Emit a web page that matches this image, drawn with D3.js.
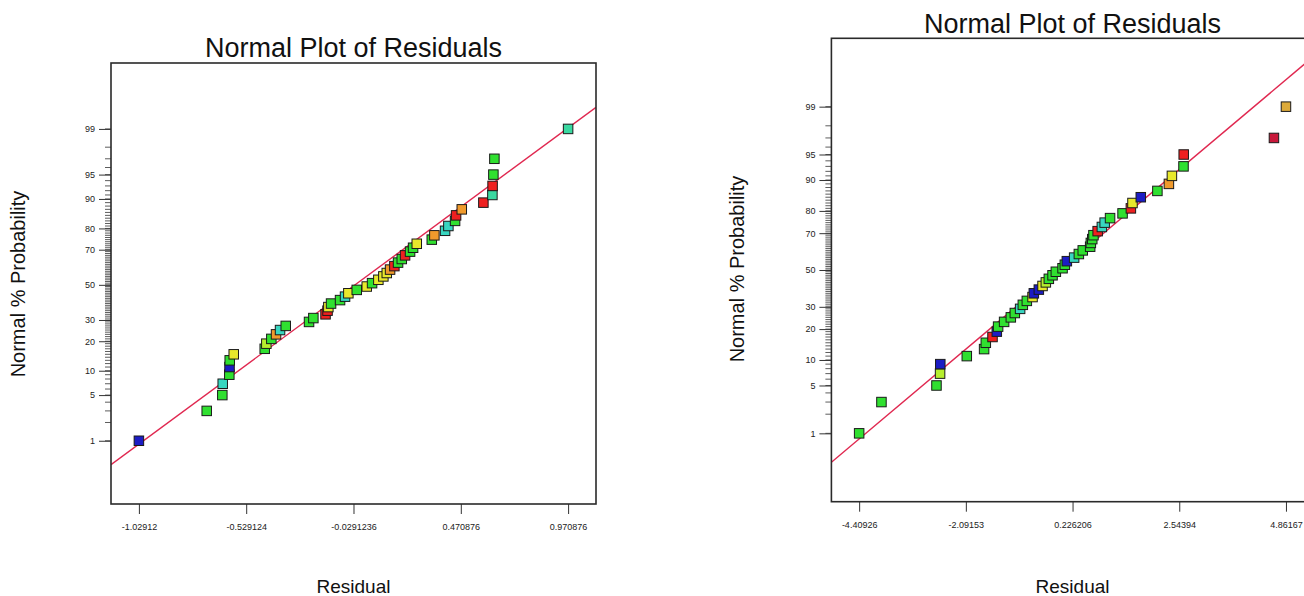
<!DOCTYPE html>
<html>
<head>
<meta charset="utf-8">
<script src="https://cdn.jsdelivr.net/npm/d3@7"></script>
<style>
  html, body { margin: 0; padding: 0; background: #fff; }
  svg { display: block; font-family: "Liberation Sans", Arial, sans-serif; }
  .tick-label { font-family: "Liberation Sans", Arial, sans-serif; fill: #222; }
</style>
</head>
<body>
<script>
// normal % probability of each ranked residual (50 runs)
const probs = [1, 3, 5, 7, 9, 11, 13, 15, 17, 19, 21, 23, 25, 27, 29, 31, 33, 35, 37, 39,
  41, 43, 45, 47, 49, 51, 53, 55, 57, 59, 61, 63, 65, 67, 69, 71, 73, 75, 77, 79,
  81, 83, 85, 87, 89, 91, 93, 95, 97, 99]
const probTicks = [1, 5, 10, 20, 30, 50, 70, 80, 90, 95, 99]

// left plot
const leftResiduals = [-1.02912, -0.7131, -0.6404, -0.6385, -0.6078, -0.6068, -0.6059, -0.5872, -0.4428, -0.4353,
  -0.4120, -0.3901, -0.3714, -0.3449, -0.2363, -0.2162, -0.1594, -0.1501, -0.1463, -0.1337,
  -0.0918, -0.0685, -0.0531, -0.0140, 0.0326, 0.0574, 0.0867, 0.1100, 0.1259, 0.1413,
  0.1613, 0.1785, 0.1958, 0.2112, 0.2345, 0.2485, 0.2657, 0.3356, 0.3477, 0.3976,
  0.4130, 0.4442, 0.4489, 0.4754, 0.5761, 0.6181, 0.6190, 0.6227, 0.6274, 0.970876]
const leftColors = ['b', 'g', 'g', 'c', 'g', 'b', 'g', 'y', 'g', 'yg',
  'g', 'o', 'c', 'g', 'g', 'g', 'r', 'r', 'y', 'g',
  'g', 'c', 'y', 'g', 'y', 'g', 'y', 'y', 'y', 'o',
  'r', 'g', 'g', 'r', 'g', 'g', 'y', 'g', 'o', 'c',
  'c', 'g', 'r', 'o', 'r', 'cg', 'r', 'g', 'g', 'cg']
const leftTicks = [-1.02912, -0.529124, -0.0291236, 0.470876, 0.970876]
const leftFit = [-0.022, 0.424]   // mean, sd of the normal line

// right plot
const rightResiduals = [-4.40926, -3.9247, -2.7294, -2.6512, -2.6468, -2.0709, -1.6950, -1.6580, -1.5124, -1.4190,
  -1.3907, -1.2603, -1.1147, -1.0278, -0.9126, -0.8539, -0.7670, -0.6431, -0.6149, -0.5062,
  -0.4258, -0.3541, -0.2889, -0.2085, -0.1368, 0.0088, 0.0588, 0.1023, 0.2609, 0.3631,
  0.4478, 0.6086, 0.6238, 0.6543, 0.6803, 0.7716, 0.8629, 0.9238, 1.0411, 1.3127,
  1.4931, 1.5279, 1.7083, 2.0690, 2.3190, 2.3842, 2.6362, 2.6406, 4.6008, 4.86167]
const rightColors = ['g', 'g', 'g', 'yg', 'b', 'g', 'g', 'g', 'r', 'b',
  'g', 'g', 'g', 'g', 'c', 'g', 'g', 'y', 'b', 'b',
  'y', 'yg', 'g', 'g', 'g', 'g', 'g', 'b', 'c', 'g',
  'g', 'g', 'g', 'g', 'g', 'r', 'c', 'c', 'g', 'g',
  'r', 'y', 'b', 'g', 'o', 'y', 'g', 'r', 'cr', 'au']
const rightTicks = [-4.40926, -2.09153, 0.226206, 2.54394, 4.86167]
const rightFit = [-0.049, 1.812]

const palette = {
  b: '#1c1cc4', c: '#38d6c0', cg: '#3ad8a0', g: '#30e030', yg: '#b6ee2e',
  y: '#e8e82c', o: '#f09a2c', r: '#ee2020', cr: '#c8183a', au: '#dcaa3a'
}

// inverse normal cdf (Acklam)
const probit = (p) => {
  const a = [-3.969683028665376e+01, 2.209460984245205e+02, -2.759285104469687e+02, 1.383577518672690e+02, -3.066479806614716e+01, 2.506628277459239e+00]
  const b = [-5.447609879822406e+01, 1.615858368580409e+02, -1.556989798598866e+02, 6.680131188771972e+01, -1.328068155288572e+01]
  const c = [-7.784894002430293e-03, -3.223964580411365e-01, -2.400758277161838e+00, -2.549732539343734e+00, 4.374664141464968e+00, 2.938163982698783e+00]
  const d = [7.784695709041462e-03, 3.224671290700398e-01, 2.445134137142996e+00, 3.754408661907416e+00]
  const tail = (q) => (((((c[0]*q+c[1])*q+c[2])*q+c[3])*q+c[4])*q+c[5]) / ((((d[0]*q+d[1])*q+d[2])*q+d[3])*q+1)
  if (p < 0.02425) return tail(Math.sqrt(-2 * Math.log(p)))
  if (p > 1 - 0.02425) return -tail(Math.sqrt(-2 * Math.log(1 - p)))
  const q = p - 0.5, r = q * q
  return (((((a[0]*r+a[1])*r+a[2])*r+a[3])*r+a[4])*r+a[5])*q / (((((b[0]*r+b[1])*r+b[2])*r+b[3])*r+b[4])*r+1)
}

const svg = d3.select('body').append('svg')
  .attr('width', 1304)
  .attr('height', 596)

const drawPanel = (id, residuals, colors, ticks, fit, box, zMax, labels) => {
  const [lo, hi] = d3.extent(residuals)
  const pad = (hi - lo) * 0.065
  const x = d3.scaleLinear().domain([lo - pad, hi + pad]).range([box.left, box.right])
  const y = d3.scaleLinear().domain([-zMax[0], zMax[1]]).range([box.bottom, box.top])
  const g = svg.append('g')

  g.append('clipPath').attr('id', 'clip-' + id)
    .append('rect')
      .attr('x', box.left).attr('y', box.top)
      .attr('width', box.right - box.left).attr('height', box.bottom - box.top)

  // minor probability ticks every 1%
  g.selectAll('.minor')
    .data(d3.range(1, 100))
    .enter()
    .append('line')
      .attr('x1', box.left - 6).attr('x2', box.left)
      .attr('y1', (d) => y(probit(d / 100))).attr('y2', (d) => y(probit(d / 100)))
      .style('stroke', '#333').style('stroke-width', 0.8)

  // major probability ticks
  const yAxis = d3.axisLeft(y)
    .tickValues(probTicks.map(p => probit(p / 100)))
    .tickFormat((d, i) => probTicks[i])
    .tickSize(12)
    .tickPadding(4)
  const ya = g.append('g').attr('transform', `translate(${box.left},0)`).call(yAxis)
  ya.select('.domain').remove()
  ya.selectAll('line').style('stroke', '#333')
  ya.selectAll('text').attr('class', 'tick-label').style('font-size', '9px').style('font-family', null)

  const xAxis = d3.axisBottom(x)
    .tickValues(ticks)
    .tickFormat((d) => String(d))
    .tickSize(10)
    .tickPadding(10)
  const xa = g.append('g').attr('transform', `translate(0,${box.bottom})`).call(xAxis)
  xa.select('.domain').remove()
  xa.selectAll('line').style('stroke', '#333')
  xa.selectAll('text').attr('class', 'tick-label').style('font-size', '9px').style('font-family', null)

  // normal line
  const lineX = x.domain()
  g.append('path')
    .datum(lineX)
    .attr('clip-path', `url(#clip-${id})`)
    .attr('d', d3.line()
      .x((d) => x(d))
      .y((d) => y((d - fit[0]) / fit[1])))
    .style('fill', 'none')
    .style('stroke', '#e02850')
    .style('stroke-width', 1.4)

  const s = 9.5
  g.selectAll('.pt')
    .data(residuals)
    .enter()
    .append('rect')
      .attr('class', 'pt')
      .attr('x', (d) => x(d) - s / 2)
      .attr('y', (d, i) => y(probit(probs[i] / 100)) - s / 2)
      .attr('width', s).attr('height', s)
      .style('fill', (d, i) => palette[colors[i]])
      .style('stroke', '#1a1a1a')
      .style('stroke-width', 1)

  g.append('rect')
    .attr('x', box.left).attr('y', box.top)
    .attr('width', box.right - box.left).attr('height', box.bottom - box.top)
    .style('fill', 'none')
    .style('stroke', '#2a2a2a')
    .style('stroke-width', 1.6)

  const cx = (box.left + box.right) / 2
  g.append('text')
    .attr('x', cx).attr('y', labels.titleY)
    .attr('text-anchor', 'middle')
    .style('font-size', '27px').style('fill', '#111')
    .text('Normal Plot of Residuals')
  g.append('text')
    .attr('x', cx).attr('y', 593)
    .attr('text-anchor', 'middle')
    .style('font-size', '19px').style('fill', '#111')
    .text('Residual')
  g.append('text')
    .attr('transform', `translate(${labels.yLabelX},${labels.yLabelY}) rotate(-90)`)
    .attr('text-anchor', 'middle')
    .style('font-size', '20px').style('fill', '#111')
    .text('Normal % Probability')
}

drawPanel('left', leftResiduals, leftColors, leftTicks, leftFit,
  {left: 111, right: 596, top: 63, bottom: 504}, [3.27, 3.31],
  {titleY: 57, yLabelX: 25, yLabelY: 284})

drawPanel('right', rightResiduals, rightColors, rightTicks, rightFit,
  {left: 831.4, right: 1313.7, top: 38.3, bottom: 501.7}, [3.3, 3.3],
  {titleY: 33, yLabelX: 744, yLabelY: 269})
</script>
</body>
</html>
